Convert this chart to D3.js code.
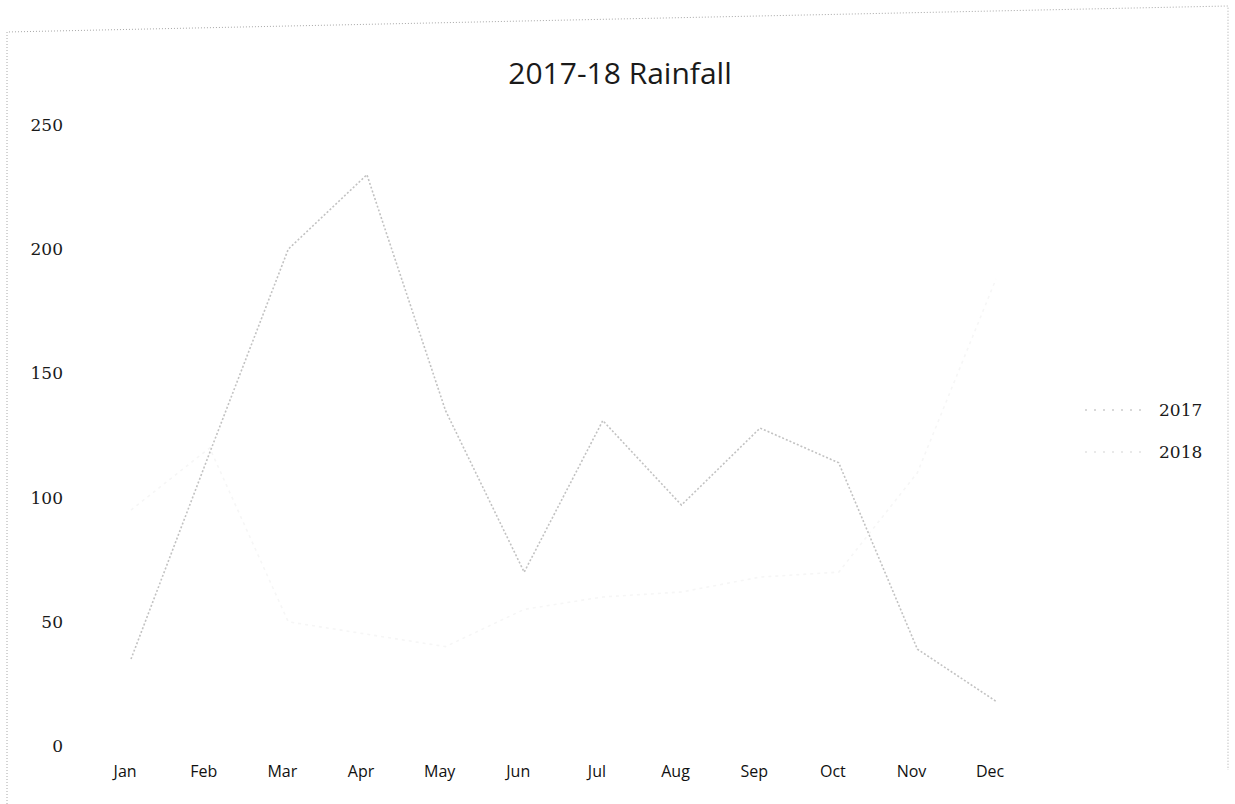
<!DOCTYPE html>
<html>
<head>
    <meta charset="utf-8">
    <style>
        body { margin: 0; background: white; }
        svg { display: block; }
    </style>
</head>
<body>
<svg width="1235" height="804"></svg>
<script src="https://d3js.org/d3.v7.min.js"></script>
<script>
    const months = ["Jan", "Feb", "Mar", "Apr", "May", "Jun", "Jul", "Aug", "Sep", "Oct", "Nov", "Dec"];
    const rain2017 = [35, 118, 200, 230, 135, 70, 131, 97, 128, 114, 39, 18];
    const rain2018 = [95, 120, 50, 45, 40, 55, 60, 62, 68, 70, 110, 188];
    const yTicks = [0, 50, 100, 150, 200, 250];
    const seriesNames = ["2017", "2018"];

    const series = [
        {name: seriesNames[0], values: rain2017, color: "#c2c2c2", dash: "2,2"},
        {name: seriesNames[1], values: rain2018, color: "#f6f6f6", dash: "3,4"}
    ];

    const svg = d3.select("svg");

    // scanned page frame
    svg.append("path")
        .attr("d", "M7,804 L7,32 L1228,6 L1228,770")
        .attr("fill", "none")
        .attr("stroke", "#a8a8a8")
        .attr("stroke-width", 1)
        .attr("stroke-dasharray", "1,2");

    let x = d3.scalePoint()
        .domain(months)
        .range([131, 996]);

    let y = d3.scaleLinear()
        .domain([0, 250])
        .range([746, 125]);

    svg.append("text")
        .attr("x", 620)
        .attr("y", 84)
        .attr("text-anchor", "middle")
        .attr("font-family", "'Open Sans', sans-serif")
        .attr("font-size", 30)
        .attr("fill", "#1a1a1a")
        .text("2017-18 Rainfall");

    // y axis labels, no line
    let yAxis = g => g
        .attr("transform", "translate(63,0)")
        .call(d3.axisLeft(y).tickValues(yTicks).tickSize(0).tickPadding(0))
        .call(g => g.select(".domain").remove())
        .call(g => g.selectAll("text")
            .attr("font-family", "'DejaVu Serif', serif")
            .attr("font-size", 17)
            .attr("fill", "#1a1a1a"));

    let xAxis = g => g
        .attr("transform", "translate(0,766)")
        .call(d3.axisBottom(x).tickSize(0).tickPadding(0))
        .call(g => g.select(".domain").remove())
        .call(g => g.selectAll("text")
            .attr("dx", "-0.4em")
            .attr("font-family", "'Open Sans', sans-serif")
            .attr("font-size", 16)
            .attr("fill", "#111"));

    svg.append("g").call(yAxis);
    svg.append("g").call(xAxis);

    let line = d3.line()
        .x((d, i) => x(months[i]))
        .y(d => y(d));

    svg.append("g")
        .attr("fill", "none")
        .selectAll("path")
        .data(series.slice().reverse())
        .join("path")
        .attr("stroke", d => d.color)
        .attr("stroke-width", 1.6)
        .attr("stroke-dasharray", d => d.dash)
        .attr("d", d => line(d.values));

    // legend
    let legend = svg.append("g")
        .selectAll("g")
        .data(series)
        .join("g")
        .attr("transform", (d, i) => `translate(1085,${410 + i * 42})`);

    legend.append("line")
        .attr("x1", 0)
        .attr("x2", 62)
        .attr("stroke", d => d.name === "2017" ? "#cccccc" : "#e2e2e2")
        .attr("stroke-width", 1.4)
        .attr("stroke-dasharray", "2,7");

    legend.append("text")
        .attr("x", 74)
        .attr("dy", "0.35em")
        .attr("font-family", "'DejaVu Serif', serif")
        .attr("font-size", 17)
        .attr("fill", "#1a1a1a")
        .text(d => d.name);
</script>
</body>
</html>
